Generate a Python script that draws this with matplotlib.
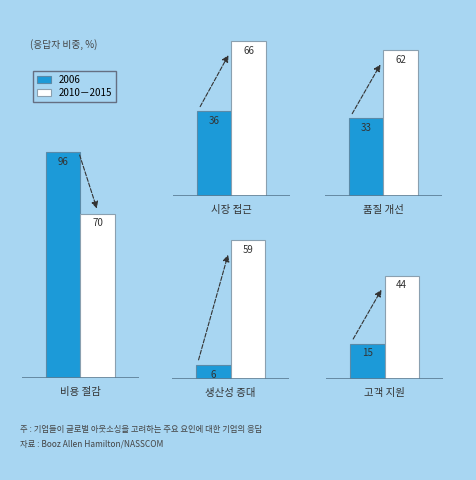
import matplotlib
matplotlib.use("Agg")
import matplotlib.pyplot as plt

plt.rcParams['font.family'] = ['Noto Sans CJK KR', 'DejaVu Sans']

categories = ["비용 절감", "시장 접근", "품질 개선", "생산성 증대", "고객 지원"]
v2006 = [96, 36, 33, 6, 15]
v2010 = [70, 66, 62, 59, 44]
series = ["2006", "2010－2015"]

W, H = 477, 480
bg = "#a8d6f2"
blue = "#1c9ad8"
fig = plt.figure(figsize=(W/100, H/100), dpi=100, facecolor=bg)

# (left px, baseline px) per panel
pos = [(22, 378), (173, 196), (325, 196), (172, 379), (326, 379)]
aw, ah = 117, 235  # 100 units = 235 px

for i, (lx, by) in enumerate(pos):
    ax = fig.add_axes([lx/W, 1-by/H, aw/W, ah/H])
    ax.set_facecolor('none')
    ax.set_xlim(-1.7, 1.7)
    ax.set_ylim(0, 100)
    a, b = v2006[i], v2010[i]
    ax.bar(-0.5, a, width=1, color=blue, edgecolor="#5a8aa8", lw=0.8, label=series[0] if i == 0 else None)
    ax.bar(0.5, b, width=1, color="white", edgecolor="#8aa0b0", lw=0.8, label=series[1] if i == 0 else None)
    ax.text(-0.5, a-2, str(a), ha='center', va='top', fontsize=7, color="#333")
    ax.text(0.5, b-2, str(b), ha='center', va='top', fontsize=7, color="#333")
    ax.axhline(0, color="#5a7d95", lw=1.2)
    if a > b:
        ax.annotate("", xy=(0.5, b+1), xytext=(-0.05, a),
                    arrowprops=dict(arrowstyle='-|>', ls='--', color='#333', lw=0.8))
    else:
        ax.annotate("", xy=(-0.05, b-5), xytext=(-0.95, a+1),
                    arrowprops=dict(arrowstyle='-|>', ls='--', color='#333', lw=0.8))
    ax.text(0, -4, categories[i], ha='center', va='top', fontsize=7.5, color="#333")
    for s in ax.spines.values():
        s.set_visible(False)
    ax.set_xticks([]); ax.set_yticks([])
    if i == 0:
        ax0 = ax

fig.text(30/W, 1-45/H, "(응답자 비중, %)", fontsize=7, color="#444", va='center')
leg = fig.legend(*ax0.get_legend_handles_labels(), loc='upper left',
                 bbox_to_anchor=(28/W, 1-66/H), fontsize=7, frameon=True,
                 fancybox=False, edgecolor="#556", facecolor=bg,
                 handlelength=1.5, handleheight=0.8, borderpad=0.4, labelspacing=0.3)
fig.text(20/W, 1-432/H, "주 : 기업들이 글로벌 아웃소싱을 고려하는 주요 요인에 대한 기업의 응답", fontsize=6, color="#444")
fig.text(20/W, 1-447/H, "자료 : Booz Allen Hamilton/NASSCOM", fontsize=6, color="#444")
fig.savefig("out.png", dpi=100, facecolor=bg)
